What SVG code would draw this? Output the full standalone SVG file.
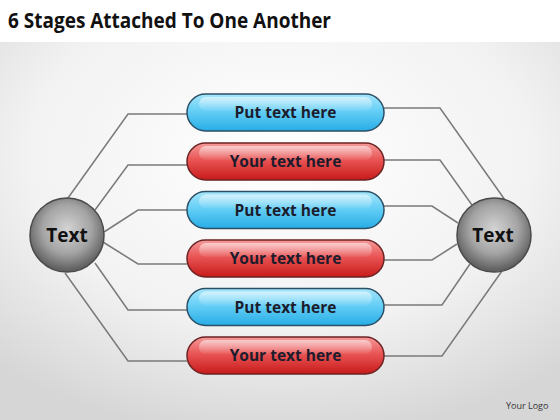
<svg xmlns="http://www.w3.org/2000/svg" width="560" height="420" viewBox="0 0 560 420">
<defs>
<radialGradient id="bg" cx="50%" cy="30%" r="75%">
<stop offset="0" stop-color="#ffffff"/>
<stop offset="0.6" stop-color="#f2f2f2"/>
<stop offset="1" stop-color="#d6d6d6"/>
</radialGradient>
<linearGradient id="blue" x1="0" y1="0" x2="0" y2="1">
<stop offset="0" stop-color="#a6e6fb"/>
<stop offset="0.45" stop-color="#66cff6"/>
<stop offset="1" stop-color="#27ade6"/>
</linearGradient>
<linearGradient id="red" x1="0" y1="0" x2="0" y2="1">
<stop offset="0" stop-color="#f59a9a"/>
<stop offset="0.45" stop-color="#e95555"/>
<stop offset="1" stop-color="#c81a1a"/>
</linearGradient>
<linearGradient id="gloss" x1="0" y1="0" x2="0" y2="1">
<stop offset="0" stop-color="#ffffff" stop-opacity="0.55"/>
<stop offset="1" stop-color="#ffffff" stop-opacity="0.05"/>
</linearGradient>
<radialGradient id="sphere" cx="50%" cy="42%" r="55%">
<stop offset="0" stop-color="#d4d4d4"/>
<stop offset="0.6" stop-color="#a4a4a4"/>
<stop offset="1" stop-color="#626262"/>
</radialGradient>
</defs>
<style>
.title{font-family:"Open Sans","Liberation Sans",sans-serif;font-weight:bold;font-size:21px;fill:#111}
.lbl{font-family:"Open Sans","Liberation Sans",sans-serif;font-weight:bold;font-size:15.5px;fill:#1c1c2c;text-anchor:middle}
.sph{font-family:"Open Sans","Liberation Sans",sans-serif;font-weight:bold;font-size:19px;fill:#111;text-anchor:middle}
.logo{font-family:"Open Sans","Liberation Sans",sans-serif;font-size:9px;fill:#333}
.conn{fill:none;stroke:#7a7a7a;stroke-width:1.5;stroke-linejoin:miter}
.pb{stroke:#2b4f66;stroke-width:1.5}
.pr{stroke:#6b2222;stroke-width:1.5}
.sp{fill:url(#sphere);stroke:#4a4a4a;stroke-width:1.5}
</style>
<rect x="0" y="0" width="560" height="420" fill="#ffffff"/>
<rect x="0" y="42" width="560" height="378" fill="url(#bg)"/>
<text class="title" x="8" y="28" textLength="323" lengthAdjust="spacingAndGlyphs">6 Stages Attached To One Another</text>

<g id="connectors">
<polyline class="conn" points="187,114 128,114 68,198"/>
<polyline class="conn" points="187,165 128,165 95,210"/>
<polyline class="conn" points="187,210 138,210 104,232"/>
<polyline class="conn" points="187,264 138,264 103,242"/>
<polyline class="conn" points="187,310 128,310 95,263"/>
<polyline class="conn" points="187,361 128,361 65,273"/>
<polyline class="conn" points="384,108 440,108 505,200"/>
<polyline class="conn" points="384,160 440,160 472,205"/>
<polyline class="conn" points="384,206 432,206 458,223"/>
<polyline class="conn" points="384,260 432,260 457,244"/>
<polyline class="conn" points="384,305 442,305 470,264"/>
<polyline class="conn" points="384,356 442,356 502,271"/>
</g>

<g id="stage1">
<rect x="187" y="94" width="197" height="37" rx="18.5" fill="url(#blue)" class="pb"/>
<rect x="199" y="97" width="173" height="14" rx="7" fill="url(#gloss)"/>
<text class="lbl" x="285.5" y="118">Put text here</text>
</g>
<g id="stage2">
<rect x="187" y="143" width="197" height="37" rx="18.5" fill="url(#red)" class="pr"/>
<rect x="199" y="146" width="173" height="14" rx="7" fill="url(#gloss)"/>
<text class="lbl" x="285.5" y="167">Your text here</text>
</g>
<g id="stage3">
<rect x="187" y="191.5" width="197" height="37" rx="18.5" fill="url(#blue)" class="pb"/>
<rect x="199" y="194.5" width="173" height="14" rx="7" fill="url(#gloss)"/>
<text class="lbl" x="285.5" y="215.5">Put text here</text>
</g>
<g id="stage4">
<rect x="187" y="240" width="197" height="37" rx="18.5" fill="url(#red)" class="pr"/>
<rect x="199" y="243" width="173" height="14" rx="7" fill="url(#gloss)"/>
<text class="lbl" x="285.5" y="264">Your text here</text>
</g>
<g id="stage5">
<rect x="187" y="288.5" width="197" height="37" rx="18.5" fill="url(#blue)" class="pb"/>
<rect x="199" y="291.5" width="173" height="14" rx="7" fill="url(#gloss)"/>
<text class="lbl" x="285.5" y="312.5">Put text here</text>
</g>
<g id="stage6">
<rect x="187" y="337" width="197" height="37" rx="18.5" fill="url(#red)" class="pr"/>
<rect x="199" y="340" width="173" height="14" rx="7" fill="url(#gloss)"/>
<text class="lbl" x="285.5" y="361">Your text here</text>
</g>

<g id="left-hub">
<circle cx="67" cy="235" r="37" class="sp"/>
<text class="sph" x="67" y="242">Text</text>
</g>
<g id="right-hub">
<circle cx="494" cy="235" r="37" class="sp"/>
<text class="sph" x="493" y="242">Text</text>
</g>

<text class="logo" x="506" y="409">Your Logo</text>
</svg>
